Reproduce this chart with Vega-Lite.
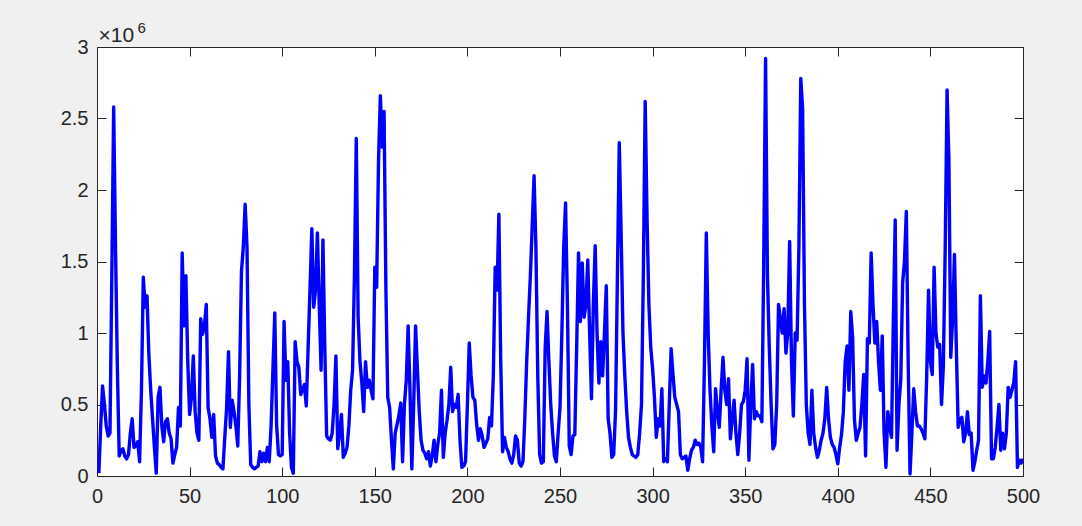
{
"$schema": "https://vega.github.io/schema/vega-lite/v6.json",
"width": 926, "height": 429,
"autosize": "none",
"padding": {"left": 97, "top": 47, "right": 59, "bottom": 50},
"background": "#f0f0f0",
"config": {
 "view": {"fill": "white", "stroke": "#262626", "strokeWidth": 1},
 "axis": {"domain": false, "grid": false, "ticks": true, "tickSize": 9, "offset": -9, "tickColor": "#262626", "tickWidth": 1,
  "labelFont": "Liberation Sans", "labelFontSize": 20, "labelColor": "#262626", "labelFlush": false,
  "titleFont": "Liberation Sans", "titleColor": "#262626", "titleFontWeight": "normal", "zindex": 1}
},
"data": {"values": [
{"x":1,"y":20000},{"x":2,"y":350000},{"x":3,"y":630000},{"x":4,"y":500000},{"x":5,"y":350000},{"x":6,"y":280000},{"x":7,"y":300000},{"x":8,"y":1400000},{"x":9,"y":2580000},{"x":10,"y":1600000},
{"x":11,"y":750000},{"x":12,"y":140000},{"x":13,"y":180000},{"x":14,"y":190000},{"x":15,"y":140000},{"x":16,"y":120000},{"x":17,"y":150000},{"x":18,"y":300000},{"x":19,"y":400000},{"x":20,"y":200000},
{"x":21,"y":210000},{"x":22,"y":240000},{"x":23,"y":100000},{"x":24,"y":600000},{"x":25,"y":1390000},{"x":26,"y":1180000},{"x":27,"y":1260000},{"x":28,"y":850000},{"x":29,"y":600000},{"x":30,"y":400000},
{"x":31,"y":200000},{"x":32,"y":20000},{"x":33,"y":550000},{"x":34,"y":620000},{"x":35,"y":350000},{"x":36,"y":240000},{"x":37,"y":380000},{"x":38,"y":400000},{"x":39,"y":300000},{"x":40,"y":260000},
{"x":41,"y":90000},{"x":42,"y":150000},{"x":43,"y":200000},{"x":44,"y":480000},{"x":45,"y":350000},{"x":46,"y":1560000},{"x":47,"y":1050000},{"x":48,"y":1400000},{"x":49,"y":800000},{"x":50,"y":430000},
{"x":51,"y":550000},{"x":52,"y":840000},{"x":53,"y":450000},{"x":54,"y":300000},{"x":55,"y":250000},{"x":56,"y":1100000},{"x":57,"y":990000},{"x":58,"y":1050000},{"x":59,"y":1200000},{"x":60,"y":480000},
{"x":61,"y":400000},{"x":62,"y":270000},{"x":63,"y":430000},{"x":64,"y":140000},{"x":65,"y":90000},{"x":66,"y":80000},{"x":67,"y":60000},{"x":68,"y":50000},{"x":69,"y":270000},{"x":70,"y":480000},
{"x":71,"y":870000},{"x":72,"y":340000},{"x":73,"y":530000},{"x":74,"y":450000},{"x":75,"y":350000},{"x":76,"y":210000},{"x":77,"y":690000},{"x":78,"y":1430000},{"x":79,"y":1600000},{"x":80,"y":1900000},
{"x":81,"y":1600000},{"x":82,"y":500000},{"x":83,"y":80000},{"x":84,"y":60000},{"x":85,"y":50000},{"x":86,"y":60000},{"x":87,"y":70000},{"x":88,"y":170000},{"x":89,"y":100000},{"x":90,"y":160000},
{"x":91,"y":100000},{"x":92,"y":200000},{"x":93,"y":100000},{"x":94,"y":350000},{"x":95,"y":750000},{"x":96,"y":1140000},{"x":97,"y":350000},{"x":98,"y":150000},{"x":99,"y":140000},{"x":100,"y":150000},
{"x":101,"y":1080000},{"x":102,"y":670000},{"x":103,"y":800000},{"x":104,"y":300000},{"x":105,"y":60000},{"x":106,"y":20000},{"x":107,"y":940000},{"x":108,"y":800000},{"x":109,"y":760000},{"x":110,"y":570000},
{"x":111,"y":600000},{"x":112,"y":640000},{"x":113,"y":490000},{"x":114,"y":900000},{"x":115,"y":1300000},{"x":116,"y":1730000},{"x":117,"y":1180000},{"x":118,"y":1300000},{"x":119,"y":1700000},{"x":120,"y":1200000},
{"x":121,"y":740000},{"x":122,"y":1650000},{"x":123,"y":900000},{"x":124,"y":280000},{"x":125,"y":260000},{"x":126,"y":250000},{"x":127,"y":300000},{"x":128,"y":500000},{"x":129,"y":840000},{"x":130,"y":190000},
{"x":131,"y":300000},{"x":132,"y":430000},{"x":133,"y":130000},{"x":134,"y":160000},{"x":135,"y":200000},{"x":136,"y":350000},{"x":137,"y":600000},{"x":138,"y":740000},{"x":139,"y":1400000},{"x":140,"y":2360000},
{"x":141,"y":1110000},{"x":142,"y":800000},{"x":143,"y":650000},{"x":144,"y":450000},{"x":145,"y":800000},{"x":146,"y":620000},{"x":147,"y":670000},{"x":148,"y":600000},{"x":149,"y":540000},{"x":150,"y":1460000},
{"x":151,"y":1320000},{"x":152,"y":2200000},{"x":153,"y":2660000},{"x":154,"y":2300000},{"x":155,"y":2550000},{"x":156,"y":1300000},{"x":157,"y":550000},{"x":158,"y":480000},{"x":159,"y":250000},{"x":160,"y":50000},
{"x":161,"y":300000},{"x":162,"y":360000},{"x":163,"y":420000},{"x":164,"y":510000},{"x":165,"y":100000},{"x":166,"y":500000},{"x":167,"y":670000},{"x":168,"y":1050000},{"x":169,"y":600000},{"x":170,"y":50000},
{"x":171,"y":500000},{"x":172,"y":1050000},{"x":173,"y":750000},{"x":174,"y":450000},{"x":175,"y":250000},{"x":176,"y":180000},{"x":177,"y":160000},{"x":178,"y":120000},{"x":179,"y":170000},{"x":180,"y":70000},
{"x":181,"y":140000},{"x":182,"y":250000},{"x":183,"y":100000},{"x":184,"y":220000},{"x":185,"y":300000},{"x":186,"y":600000},{"x":187,"y":130000},{"x":188,"y":300000},{"x":189,"y":390000},{"x":190,"y":500000},
{"x":191,"y":760000},{"x":192,"y":450000},{"x":193,"y":500000},{"x":194,"y":480000},{"x":195,"y":570000},{"x":196,"y":250000},{"x":197,"y":60000},{"x":198,"y":70000},{"x":199,"y":100000},{"x":200,"y":500000},
{"x":201,"y":930000},{"x":202,"y":700000},{"x":203,"y":550000},{"x":204,"y":530000},{"x":205,"y":360000},{"x":206,"y":250000},{"x":207,"y":330000},{"x":208,"y":280000},{"x":209,"y":200000},{"x":210,"y":230000},
{"x":211,"y":260000},{"x":212,"y":410000},{"x":213,"y":350000},{"x":214,"y":700000},{"x":215,"y":1460000},{"x":216,"y":1300000},{"x":217,"y":1830000},{"x":218,"y":800000},{"x":219,"y":170000},{"x":220,"y":270000},
{"x":221,"y":200000},{"x":222,"y":170000},{"x":223,"y":120000},{"x":224,"y":90000},{"x":225,"y":150000},{"x":226,"y":280000},{"x":227,"y":250000},{"x":228,"y":90000},{"x":229,"y":70000},{"x":230,"y":100000},
{"x":231,"y":400000},{"x":232,"y":800000},{"x":233,"y":1110000},{"x":234,"y":1400000},{"x":235,"y":1750000},{"x":236,"y":2100000},{"x":237,"y":1600000},{"x":238,"y":700000},{"x":239,"y":150000},{"x":240,"y":90000},
{"x":241,"y":100000},{"x":242,"y":900000},{"x":243,"y":1150000},{"x":244,"y":800000},{"x":245,"y":500000},{"x":246,"y":300000},{"x":247,"y":140000},{"x":248,"y":100000},{"x":249,"y":300000},{"x":250,"y":480000},
{"x":251,"y":1000000},{"x":252,"y":1600000},{"x":253,"y":1910000},{"x":254,"y":1200000},{"x":255,"y":210000},{"x":256,"y":150000},{"x":257,"y":280000},{"x":258,"y":290000},{"x":259,"y":900000},{"x":260,"y":1560000},
{"x":261,"y":1080000},{"x":262,"y":1490000},{"x":263,"y":1110000},{"x":264,"y":1200000},{"x":265,"y":1510000},{"x":266,"y":1000000},{"x":267,"y":540000},{"x":268,"y":1200000},{"x":269,"y":1610000},{"x":270,"y":1000000},
{"x":271,"y":650000},{"x":272,"y":940000},{"x":273,"y":700000},{"x":274,"y":1000000},{"x":275,"y":1330000},{"x":276,"y":400000},{"x":277,"y":300000},{"x":278,"y":130000},{"x":279,"y":150000},{"x":280,"y":460000},
{"x":281,"y":1400000},{"x":282,"y":2330000},{"x":283,"y":1700000},{"x":284,"y":1000000},{"x":285,"y":700000},{"x":286,"y":450000},{"x":287,"y":270000},{"x":288,"y":200000},{"x":289,"y":150000},{"x":290,"y":140000},
{"x":291,"y":130000},{"x":292,"y":150000},{"x":293,"y":300000},{"x":294,"y":500000},{"x":295,"y":1400000},{"x":296,"y":2620000},{"x":297,"y":1800000},{"x":298,"y":1200000},{"x":299,"y":900000},{"x":300,"y":750000},
{"x":301,"y":550000},{"x":302,"y":270000},{"x":303,"y":400000},{"x":304,"y":350000},{"x":305,"y":610000},{"x":306,"y":100000},{"x":307,"y":120000},{"x":308,"y":100000},{"x":309,"y":500000},{"x":310,"y":890000},
{"x":311,"y":710000},{"x":312,"y":550000},{"x":313,"y":500000},{"x":314,"y":450000},{"x":315,"y":150000},{"x":316,"y":120000},{"x":317,"y":130000},{"x":318,"y":140000},{"x":319,"y":40000},{"x":320,"y":120000},
{"x":321,"y":180000},{"x":322,"y":200000},{"x":323,"y":250000},{"x":324,"y":220000},{"x":325,"y":230000},{"x":326,"y":200000},{"x":327,"y":100000},{"x":328,"y":800000},{"x":329,"y":1700000},{"x":330,"y":1000000},
{"x":331,"y":600000},{"x":332,"y":350000},{"x":333,"y":170000},{"x":334,"y":610000},{"x":335,"y":450000},{"x":336,"y":340000},{"x":337,"y":600000},{"x":338,"y":830000},{"x":339,"y":600000},{"x":340,"y":500000},
{"x":341,"y":680000},{"x":342,"y":260000},{"x":343,"y":400000},{"x":344,"y":530000},{"x":345,"y":300000},{"x":346,"y":150000},{"x":347,"y":300000},{"x":348,"y":500000},{"x":349,"y":520000},{"x":350,"y":600000},
{"x":351,"y":820000},{"x":352,"y":110000},{"x":353,"y":500000},{"x":354,"y":780000},{"x":355,"y":400000},{"x":356,"y":450000},{"x":357,"y":420000},{"x":358,"y":420000},{"x":359,"y":380000},{"x":360,"y":1500000},
{"x":361,"y":2920000},{"x":362,"y":1410000},{"x":363,"y":900000},{"x":364,"y":500000},{"x":365,"y":190000},{"x":366,"y":220000},{"x":367,"y":500000},{"x":368,"y":1200000},{"x":369,"y":1100000},{"x":370,"y":1000000},
{"x":371,"y":1170000},{"x":372,"y":860000},{"x":373,"y":1000000},{"x":374,"y":1640000},{"x":375,"y":800000},{"x":376,"y":420000},{"x":377,"y":1000000},{"x":378,"y":950000},{"x":379,"y":1600000},{"x":380,"y":2780000},
{"x":381,"y":2570000},{"x":382,"y":1200000},{"x":383,"y":500000},{"x":384,"y":300000},{"x":385,"y":220000},{"x":386,"y":600000},{"x":387,"y":300000},{"x":388,"y":200000},{"x":389,"y":130000},{"x":390,"y":180000},
{"x":391,"y":250000},{"x":392,"y":300000},{"x":393,"y":400000},{"x":394,"y":620000},{"x":395,"y":400000},{"x":396,"y":270000},{"x":397,"y":220000},{"x":398,"y":200000},{"x":399,"y":150000},{"x":400,"y":85000},
{"x":401,"y":200000},{"x":402,"y":290000},{"x":403,"y":450000},{"x":404,"y":800000},{"x":405,"y":910000},{"x":406,"y":600000},{"x":407,"y":1150000},{"x":408,"y":970000},{"x":409,"y":390000},{"x":410,"y":250000},
{"x":411,"y":300000},{"x":412,"y":340000},{"x":413,"y":500000},{"x":414,"y":710000},{"x":415,"y":140000},{"x":416,"y":960000},{"x":417,"y":930000},{"x":418,"y":1560000},{"x":419,"y":1200000},{"x":420,"y":930000},
{"x":421,"y":1080000},{"x":422,"y":800000},{"x":423,"y":600000},{"x":424,"y":980000},{"x":425,"y":300000},{"x":426,"y":60000},{"x":427,"y":450000},{"x":428,"y":350000},{"x":429,"y":270000},{"x":430,"y":1100000},
{"x":431,"y":1790000},{"x":432,"y":180000},{"x":433,"y":500000},{"x":434,"y":670000},{"x":435,"y":1350000},{"x":436,"y":1500000},{"x":437,"y":1850000},{"x":438,"y":800000},{"x":439,"y":15000},{"x":440,"y":300000},
{"x":441,"y":610000},{"x":442,"y":450000},{"x":443,"y":350000},{"x":444,"y":350000},{"x":445,"y":330000},{"x":446,"y":300000},{"x":447,"y":260000},{"x":448,"y":700000},{"x":449,"y":1300000},{"x":450,"y":800000},
{"x":451,"y":710000},{"x":452,"y":1460000},{"x":453,"y":1000000},{"x":454,"y":900000},{"x":455,"y":920000},{"x":456,"y":500000},{"x":457,"y":770000},{"x":458,"y":1600000},{"x":459,"y":2700000},{"x":460,"y":2200000},
{"x":461,"y":830000},{"x":462,"y":1100000},{"x":463,"y":1550000},{"x":464,"y":900000},{"x":465,"y":340000},{"x":466,"y":400000},{"x":467,"y":410000},{"x":468,"y":240000},{"x":469,"y":300000},{"x":470,"y":450000},
{"x":471,"y":290000},{"x":472,"y":300000},{"x":473,"y":40000},{"x":474,"y":100000},{"x":475,"y":180000},{"x":476,"y":250000},{"x":477,"y":1260000},{"x":478,"y":620000},{"x":479,"y":700000},{"x":480,"y":650000},
{"x":481,"y":800000},{"x":482,"y":1010000},{"x":483,"y":120000},{"x":484,"y":120000},{"x":485,"y":200000},{"x":486,"y":340000},{"x":487,"y":500000},{"x":488,"y":180000},{"x":489,"y":300000},{"x":490,"y":190000},
{"x":491,"y":300000},{"x":492,"y":620000},{"x":493,"y":550000},{"x":494,"y":600000},{"x":495,"y":650000},{"x":496,"y":800000},{"x":497,"y":60000},{"x":498,"y":110000},{"x":499,"y":90000},{"x":500,"y":120000}
]},
"layer": [
 {"mark": {"type": "line", "color": "#0000ff", "strokeWidth": 3.4, "strokeJoin": "round", "clip": true},
  "encoding": {
   "x": {"field": "x", "type": "quantitative", "scale": {"domain": [0, 500], "nice": false},
         "axis": {"orient": "bottom", "values": [0,50,100,150,200,250,300,350,400,450,500], "labelPadding": 10, "title": null}},
   "y": {"field": "y", "type": "quantitative", "scale": {"domain": [0, 3000000], "nice": false},
         "axis": {"orient": "left", "values": [0,500000,1000000,1500000,2000000,2500000,3000000],
                  "labelExpr": "format(datum.value/1000000, '~g')", "labelPadding": 9,
                  "title": "×10", "titleAngle": 0, "titleX": -8, "titleY": -6, "titleAlign": "left",
                  "titleBaseline": "alphabetic", "titleFontSize": 21}}
  }},
 {"mark": {"type": "line", "strokeOpacity": 0},
  "encoding": {
   "x": {"field": "x", "type": "quantitative", "scale": {"domain": [0, 500], "nice": false},
         "axis": {"orient": "top", "values": [0,50,100,150,200,250,300,350,400,450,500], "labels": false, "title": null}},
   "y": {"field": "y", "type": "quantitative", "scale": {"domain": [0, 3000000], "nice": false},
         "axis": {"orient": "right", "values": [0,500000,1000000,1500000,2000000,2500000,3000000], "labels": false,
                  "title": "6", "titleAngle": 0, "titleX": -877, "titleY": -15, "titleAlign": "left",
                  "titleBaseline": "alphabetic", "titleFontSize": 15}}
  }}
],
"resolve": {"axis": {"x": "independent", "y": "independent"}}
}
